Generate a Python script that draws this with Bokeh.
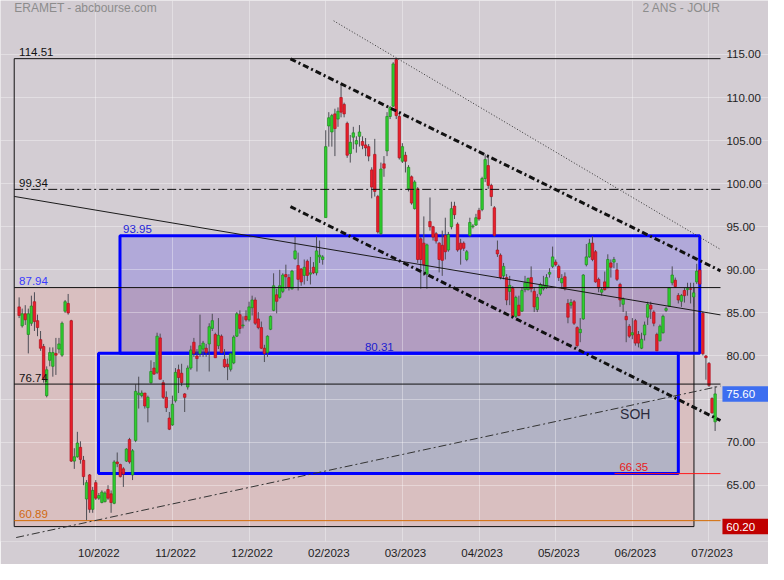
from bokeh.plotting import figure
from bokeh.models import Range1d, FixedTicker
from bokeh.core.properties import value
from bokeh.embed import file_html
from bokeh.resources import INLINE

# ---------------- data ----------------
opens = [85.7, 83.5, 84.9, 82.5, 83.8, 86.3, 84.1, 81.9, 81.1, 75.4,
         79.5, 78.8, 80.3, 80.8, 80.1, 85.2, 86.1, 84.1, 67.8, 68.3,
         69.4, 67.9, 63.4, 66.2, 62.2, 65.3, 63.5, 63.0, 63.1, 64.5,
         64.0, 62.9, 67.7, 67.4, 66.9, 67.8, 70.3, 66.2, 70.2, 75.5,
         75.4, 75.7, 74.0, 76.9, 78.6, 78.1, 82.1, 76.9, 75.2, 72.8,
         72.0, 74.8, 78.4, 78.0, 75.6, 76.4, 78.6, 81.6, 80.0, 80.25,
         80.8, 80.9, 81.4, 83.2, 82.5, 81.2, 82.3, 79.6, 79.05, 78.45,
         79.2, 82.3, 84.8, 83.5, 84.6, 84.2, 85.6, 86.5, 84.3, 83.3,
         80.9, 80.4, 83.1, 85.3, 87.1, 86.8, 87.5, 89.45, 89.1, 87.8,
         91.3, 90.5, 90.1, 89.35, 91.0, 89.5, 90.3, 89.65, 91.5, 91.2,
         96.06, 106.7, 106.0, 108.1, 107.5, 110.0, 109.2, 107.0, 103.5, 105.4,
         104.6, 105.5, 104.9, 104.5, 104.3, 101.6, 103.4, 98.5, 94.2, 102.3,
         103.8, 107.8, 109.0, 114.4, 107.8, 102.6, 103.3, 99.4, 100.8, 97.1,
         99.4, 93.6, 93.1, 89.5, 95.6, 95.0, 94.2, 93.1, 92.85, 94.0,
         92.3, 95.0, 97.4, 95.3, 93.1, 93.1, 91.2, 94.0, 95.0, 95.2,
         96.9, 97.0, 100.6, 102.1, 99.8, 97.2, 92.3, 91.7, 89.3, 89.1,
         87.5, 87.85, 84.6, 85.9, 85.2, 87.7, 87.7, 89.1, 87.5, 85.4,
         87.2, 87.8, 88.0, 89.5, 90.4, 90.9, 90.4, 88.5, 89.2, 86.1,
         85.9, 86.3, 83.3, 82.7, 84.3, 90.6, 91.5, 93.1, 92.1, 88.9,
         87.4, 88.6, 87.97, 90.8, 90.9, 90.0, 88.3, 86.0, 84.6, 83.45,
         82.45, 84.1, 82.5, 80.9, 82.45, 84.5, 85.9, 85.1, 82.5, 81.76,
         82.7, 85.3, 85.8, 88.5, 88.8, 87.03, 86.35, 87.6, 87.7, 87.8,
         86.85, 88.6, 89.97, 84.96, 80.0, 79.13, 75.07, 72.36]

highs = [86.8, 85.5, 85.9, 85.5, 87.0, 87.4, 84.8, 82.9, 81.4, 78.8,
         81.0, 81.0, 82.1, 82.1, 84.0, 86.5, 87.2, 84.2, 69.3, 71.2,
         70.1, 68.4, 65.6, 66.3, 64.8, 65.6, 64.1, 64.4, 64.3, 65.0,
         64.4, 67.9, 68.8, 67.5, 67.1, 69.3, 70.5, 69.2, 76.7, 77.6,
         76.0, 75.7, 75.4, 79.5, 79.3, 82.7, 82.6, 77.2, 75.9, 73.5,
         75.4, 78.6, 79.0, 79.1, 75.7, 78.9, 81.2, 82.1, 80.8, 84.8,
         81.75, 81.4, 83.8, 84.9, 82.7, 84.4, 82.5, 80.8, 79.7, 80.4,
         82.4, 85.1, 85.3, 84.6, 85.3, 86.3, 87.0, 86.8, 85.1, 84.0,
         81.3, 82.4, 84.7, 89.6, 87.8, 90.0, 89.6, 90.6, 89.5, 90.0,
         93.87, 92.0, 90.2, 91.2, 91.2, 91.5, 90.9, 93.9, 93.4, 91.7,
         106.2, 108.3, 108.1, 108.7, 108.85, 111.6, 109.4, 107.2, 105.65, 106.6,
         105.5, 106.8, 105.5, 105.3, 104.6, 101.9, 105.2, 98.7, 102.45, 103.2,
         108.3, 109.0, 114.1, 114.51, 108.1, 104.7, 103.7, 102.15, 100.95, 100.4,
         99.6, 93.8, 96.2, 93.05, 98.4, 95.1, 94.4, 93.2, 94.55, 96.05,
         94.4, 97.9, 97.9, 95.5, 93.6, 93.3, 92.3, 96.05, 95.3, 96.5,
         97.2, 100.8, 103.4, 103.2, 100.0, 97.4, 93.4, 91.9, 90.8, 89.5,
         89.3, 88.1, 87.0, 87.0, 88.0, 89.3, 89.1, 90.4, 88.0, 87.2,
         88.5, 89.3, 89.5, 90.2, 92.7, 91.2, 90.6, 89.5, 89.7, 86.6,
         86.6, 86.5, 83.45, 84.4, 89.5, 93.0, 93.6, 93.9, 92.3, 89.1,
         88.0, 89.8, 91.8, 91.2, 91.5, 90.8, 88.5, 86.8, 85.2, 83.7,
         84.4, 84.3, 82.9, 82.7, 84.0, 86.3, 86.3, 85.3, 82.7, 83.65,
         84.8, 85.7, 88.0, 90.4, 89.1, 87.3, 87.2, 87.9, 88.5, 88.5,
         88.5, 90.7, 90.05, 85.15, 80.1, 79.3, 75.2, 76.5]

lows = [84.4, 83.3, 83.6, 80.3, 83.5, 82.9, 82.3, 80.6, 76.9, 75.2,
        78.8, 77.6, 77.8, 80.3, 79.9, 85.0, 84.8, 67.7, 66.9, 68.2,
        67.5, 65.0, 60.9, 61.8, 61.8, 63.3, 63.3, 62.9, 63.0, 63.3,
        61.8, 62.8, 67.1, 65.9, 64.8, 67.7, 67.5, 65.6, 70.0, 73.9,
        75.2, 73.9, 72.3, 76.8, 77.8, 77.9, 77.3, 75.0, 73.5, 71.4,
        71.9, 74.6, 75.7, 76.5, 73.5, 76.1, 78.4, 79.9, 78.2, 79.9,
        79.9, 79.9, 78.2, 82.9, 79.8, 80.8, 80.3, 78.6, 77.2, 78.2,
        79.05, 82.2, 82.6, 83.2, 84.0, 84.0, 84.7, 83.6, 83.1, 80.8,
        79.3, 79.9, 83.0, 85.2, 84.95, 86.65, 87.3, 87.8, 87.6, 87.7,
        91.16, 87.6, 88.15, 88.3, 88.7, 88.3, 89.5, 89.35, 90.8, 90.6,
        96.06, 104.3, 104.3, 103.2, 106.6, 107.7, 107.7, 103.0, 102.45, 104.0,
        103.6, 104.3, 104.0, 103.2, 102.6, 98.3, 98.5, 94.2, 94.0, 100.8,
        103.2, 107.5, 108.9, 107.5, 102.8, 102.4, 101.3, 99.1, 97.56, 97.0,
        90.8, 87.8, 89.3, 87.8, 94.55, 93.4, 93.05, 89.7, 89.3, 91.2,
        92.1, 94.7, 95.9, 92.1, 90.6, 92.2, 91.0, 93.8, 94.8, 95.1,
        95.7, 96.8, 100.2, 99.4, 97.4, 93.8, 91.5, 88.9, 88.9, 85.9,
        85.9, 84.4, 84.4, 84.6, 85.1, 87.4, 87.6, 87.4, 85.1, 85.1,
        87.0, 87.6, 87.8, 89.1, 90.2, 90.4, 88.7, 87.8, 87.6, 83.8,
        85.5, 83.6, 81.0, 81.6, 84.2, 90.4, 91.4, 91.0, 88.5, 87.4,
        87.0, 87.6, 87.85, 89.1, 90.2, 88.7, 85.7, 85.1, 81.6, 82.1,
        81.95, 81.2, 81.0, 80.8, 81.8, 83.6, 84.3, 83.45, 80.56, 81.7,
        82.6, 85.1, 85.7, 88.2, 87.9, 86.1, 85.7, 86.2, 87.0, 86.1,
        85.7, 88.35, 88.16, 80.07, 77.25, 76.4, 73.3, 71.3]

closes = [84.7, 84.9, 84.2, 84.9, 85.8, 84.0, 83.3, 80.9, 77.4, 78.4,
          80.4, 80.4, 80.1, 81.4, 83.8, 86.3, 85.0, 67.8, 68.3, 69.9,
          68.0, 66.0, 65.3, 62.2, 64.4, 63.5, 63.8, 64.2, 64.1, 63.5,
          63.0, 67.7, 67.5, 66.0, 66.3, 69.2, 67.7, 69.0, 75.9, 75.7,
          75.7, 74.2, 75.2, 78.2, 77.9, 82.3, 77.3, 75.2, 74.0, 71.5,
          74.4, 78.1, 77.5, 76.9, 75.2, 78.6, 80.7, 80.3, 79.7, 81.2,
          81.5, 80.4, 83.4, 84.1, 79.8, 82.4, 80.4, 78.75, 78.75, 80.25,
          82.2, 84.9, 83.2, 83.6, 84.2, 85.7, 86.5, 83.8, 83.3, 80.9,
          80.3, 82.3, 84.6, 88.15, 86.35, 88.15, 89.4, 89.2, 87.96, 89.85,
          92.2, 88.9, 88.6, 90.3, 89.35, 89.65, 89.65, 92.2, 91.7, 91.5,
          104.3, 107.65, 107.9, 106.4, 108.4, 108.3, 108.1, 103.3, 104.8, 105.9,
          105.0, 106.0, 104.45, 104.15, 103.2, 99.6, 99.1, 94.4, 101.7, 101.8,
          107.8, 108.85, 113.9, 107.9, 103.0, 104.3, 102.6, 101.9, 97.75, 100.2,
          91.2, 91.2, 90.6, 92.9, 95.0, 93.8, 93.35, 91.2, 91.1, 92.1,
          94.1, 97.1, 96.4, 92.3, 92.4, 92.5, 92.1, 95.5, 95.1, 96.05,
          95.9, 100.6, 102.8, 99.8, 98.5, 94.0, 91.85, 89.1, 90.4, 86.5,
          88.2, 84.6, 86.8, 84.7, 87.6, 88.5, 89.0, 87.8, 85.7, 86.8,
          88.3, 88.2, 89.1, 89.7, 91.5, 90.6, 89.1, 89.0, 87.8, 84.5,
          86.2, 83.8, 81.2, 83.1, 89.4, 91.5, 93.1, 91.2, 88.6, 87.9,
          87.7, 87.7, 91.2, 90.3, 91.2, 88.9, 86.5, 86.6, 84.2, 82.3,
          82.7, 81.5, 81.5, 81.95, 83.6, 86.0, 85.45, 83.8, 80.6, 83.45,
          84.6, 85.5, 87.9, 89.4, 88.05, 86.5, 87.03, 87.0, 87.85, 87.75,
          87.33, 89.85, 88.35, 80.26, 79.8, 76.6, 73.4, 75.6]

# x axis: session index of each month grid line, and its label
month_idx = [26, 51, 76, 101, 126, 151, 176, 201, 226]
month_labels = ["10/2022", "11/2022", "12/2022", "02/2023", "03/2023",
                "04/2023", "05/2023", "06/2023", "07/2023"]
y_ticks = [65, 70, 75, 80, 85, 90, 95, 100, 105, 110, 115]
y_tick_labels = ["65.00", "70.00", "75.00", "80.00", "85.00", "90.00",
                 "95.00", "100.00", "105.00", "110.00", "115.00"]

# horizontal levels (price)
level_top = 114.51
level_dashdot = 99.34
level_zone = 87.94
level_mid = 76.74
level_low = 60.89
level_floor = 60.20
box_high_top = 93.95
box_split = 80.31
box_low_bottom = 66.35
last_price = 75.60

# trend lines: (session index, price) end points
resistance_line = ([-0.6, 229.75], [98.52, 84.77])
channel_upper = ([89.5, 229.75], [114.49, 89.89])
channel_lower = ([89.5, 229.75], [97.34, 72.51])
dotted_line = ([103.6, 229.75], [118.9, 92.37])
support_line = ([0.04, 229.75], [58.93, 76.51])

# ---------------- figure ----------------
BG = "#d3cdd3"
FONT = "Liberation Sans"
idx = list(range(1, len(opens) + 1))
x_left, x_right, x_box_end = -0.6, 229.75, 221.1
axis_x = 230.07          # session index where the price scale starts
tag_left, tag_right = 230.39, 245.41
tag_half = 0.9

p = figure(width=768, height=564, output_backend="svg", toolbar_location=None,
           x_range=Range1d(-5.07, 245.41), y_range=Range1d(58.47, 121.26),
           y_axis_location="right",
           min_border_left=0, min_border_top=0, min_border_right=0, min_border_bottom=23,
           background_fill_color=BG, border_fill_color=BG, outline_line_color=None)

for ax in (p.xaxis[0], p.yaxis[0]):
    ax.axis_line_color = None
    ax.major_tick_line_color = None
    ax.minor_tick_line_color = None
    ax.major_tick_in = 0
    ax.major_tick_out = 0
    ax.major_label_text_font = FONT
    ax.major_label_text_font_size = "11.5px"
    ax.major_label_text_color = "#1e1e1e"
    ax.major_label_standoff = 5

p.yaxis.fixed_location = axis_x
p.yaxis.ticker = FixedTicker(ticks=y_ticks)
overrides = {t: s for t, s in zip(y_ticks, y_tick_labels)}
overrides[75] = ""          # hidden behind the last-price tag
p.yaxis.major_label_overrides = overrides
p.xaxis.ticker = FixedTicker(ticks=[m + 1 for m in month_idx])
p.xaxis.major_label_overrides = {m + 1: s for m, s in zip(month_idx, month_labels)}
p.xgrid.ticker = FixedTicker(ticks=month_idx)
p.ygrid.ticker = FixedTicker(ticks=y_ticks)
for g in (p.xgrid[0], p.ygrid[0]):
    g.grid_line_color = "#ffffff"
    g.grid_line_alpha = 0.35
    g.grid_line_width = 1
p.ygrid.bounds = (-5.07, axis_x)

# zone fills (below the grid)
p.quad(left=[x_left], right=[x_box_end], bottom=[level_floor], top=[level_zone],
       fill_color="#d9bfc0", line_color=None, level="image")
p.quad(left=[33.9], right=[223.0], bottom=[level_zone], top=[box_high_top],
       fill_color="#b1a9d9", line_color=None, level="image")
p.quad(left=[33.9], right=[223.0], bottom=[box_split], top=[level_zone],
       fill_color="#b29dc1", line_color=None, level="image")
p.quad(left=[26.9], right=[216.0], bottom=[box_low_bottom], top=[box_split],
       fill_color="#b2b3c5", line_color=None, level="image")

# black frame of the pink zone
p.line([x_left, x_left], [level_floor, level_top], line_color="#111111", line_width=1)
p.line([x_left, x_box_end], [level_floor, level_floor], line_color="#111111", line_width=1)
p.line([x_box_end, x_box_end], [level_floor, level_zone], line_color="#111111", line_width=1)

# blue boxes
p.quad(left=[33.9], right=[223.0], bottom=[box_split], top=[box_high_top],
       fill_color=None, line_color="#0000ff", line_width=3)
p.quad(left=[26.9], right=[216.0], bottom=[box_low_bottom], top=[box_split],
       fill_color=None, line_color="#0000ff", line_width=3)

# candles
up = [c >= o for o, c in zip(opens, closes)]
body_top = [max(o, c) for o, c in zip(opens, closes)]
body_bot = [min(o, c) for o, c in zip(opens, closes)]
fill = ["#2fd02f" if u else "#ea1f2b" for u in up]
edge = ["#1f8a1f" if u else "#b0101c" for u in up]
p.segment(x0=idx, y0=lows, x1=idx, y1=highs, line_color="#4d4d55", line_width=1)
p.vbar(x=idx, width=0.8, top=body_top, bottom=body_bot,
       fill_color=fill, line_color=edge, line_width=0.7)

# horizontal levels
p.line([x_left, x_right], [level_top, level_top], line_color="#111111", line_width=1)
p.line([x_left, x_right], [level_dashdot, level_dashdot], line_color="#111111",
       line_width=1, line_dash="9 3 2 3")
p.line([x_left, x_right], [level_zone, level_zone], line_color="#111111", line_width=1)
p.line([x_left, x_right], [level_mid, level_mid], line_color="#111111", line_width=1)
p.line([x_left, x_right], [level_low, level_low], line_color="#d46a00", line_width=1)
p.line([195.2, x_right], [box_low_bottom, box_low_bottom], line_color="#ff1a1a", line_width=1)

# trend lines
p.line(*resistance_line, line_color="#1a1a1a", line_width=1)
p.line(*channel_upper, line_color="#111111", line_width=3, line_dash="6 3 2 3")
p.line(*channel_lower, line_color="#111111", line_width=3, line_dash="6 3 2 3")
p.line(*dotted_line, line_color="#333333", line_width=1, line_dash="1 2")
p.line(*support_line, line_color="#333333", line_width=1, line_dash="8 3 2 3")

# level texts (sitting just above their lines)
p.text(x=[1.0, 1.0, 1.0, 1.0, 1.0, 34.9, 113.8, 196.8],
       y=[level_top, level_dashdot, level_zone, level_mid, level_low,
          box_high_top, box_split, box_low_bottom],
       text=["114.51", "99.34", "87.94", "76.74", "60.89", "93.95", "80.31", "66.35"],
       text_color=["#111111", "#111111", "#3a3aff", "#111111", "#d06a10",
                   "#2424d8", "#2020d0", "#e81c1c"],
       text_font=value(FONT), text_font_size=value("11.5px"),
       text_baseline="middle", text_align="left", y_offset=-6.5)
p.text(x=[201.96], y=[73.30], text=["SOH"], text_color="#2a2a3c",
       text_font=value(FONT), text_font_size=value("14px"),
       text_baseline="middle", text_align="center")

# header texts
p.text(x=[-0.6], y=[120.36], text=["ERAMET - abcbourse.com"], text_color="#8c8c8c",
       text_font=value(FONT), text_font_size=value("12px"),
       text_baseline="middle", text_align="left")
p.text(x=[229.75], y=[120.36], text=["2 ANS - JOUR"], text_color="#8c8c8c",
       text_font=value(FONT), text_font_size=value("12px"),
       text_baseline="middle", text_align="right")

# price tags on the price scale
tag_vals = [last_price, level_floor]
tag_colors = ["#3d6ef0", "#c00000"]
p.quad(left=[tag_left] * 2, right=[tag_right] * 2,
       bottom=[v - tag_half for v in tag_vals], top=[v + tag_half for v in tag_vals],
       fill_color=tag_colors, line_color=None)
p.text(x=[axis_x + 1.6] * 2, y=tag_vals, text=["%.2f" % v for v in tag_vals],
       text_color="white", text_font=value(FONT), text_font_size=value("11.5px"),
       text_baseline="middle", text_align="left")

open("out.html", "w").write(file_html(p, INLINE))
